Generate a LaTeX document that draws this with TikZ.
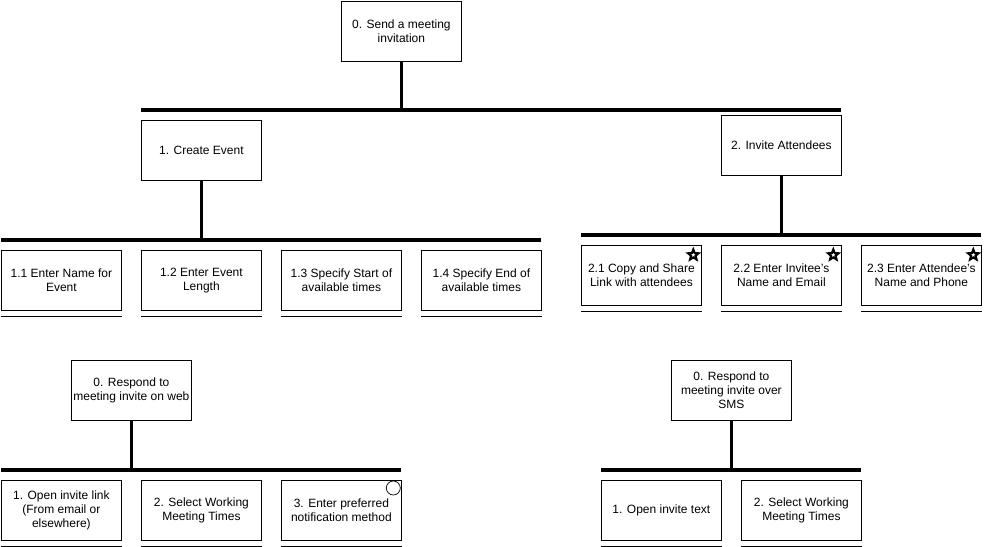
\documentclass[tikz,border=0pt]{standalone}
\usepackage{fontspec}
\setmainfont{Liberation Sans}
\usetikzlibrary{shapes.geometric}
\begin{document}
\begin{tikzpicture}[x=1pt,y=-1pt,
  box/.style={draw=black, line width=0.8pt, fill=white, minimum width=120pt,
    minimum height=60pt, inner sep=0pt, align=center, anchor=north west,
    font=\fontsize{12}{14}\selectfont},
  bar/.style={line width=3.6pt},
  link/.style={line width=3.4pt},
  under/.style={line width=1.3pt},
  mark star/.style={star, star points=5, star point ratio=2.3, draw=black,
    fill=white, line width=2.1pt, minimum size=11pt, inner sep=0pt},
  mark ring/.style={circle, draw=black, fill=white, line width=0.7pt,
    minimum size=14pt, inner sep=0pt}
]
\useasboundingbox (0,0) rectangle (984,546);

% ---------- Send a meeting invitation ----------
\node[box] (n0) at (341,0.5) {0. Send a meeting\\invitation};
\coordinate (b0L) at (141,110);
\coordinate (b0R) at (841,110);
\draw[bar] (b0L) -- (b0R);
\draw[link] (n0.south) -- (n0.south |- b0L);

\node[box] (n1) at (141,120) {1. Create Event};
\node[box] (n2) at (721,115) {2. Invite Attendees};

% Create Event branch
\coordinate (b1L) at (1,240);
\coordinate (b1R) at (541,240);
\draw[bar] (b1L) -- (b1R);
\draw[link] (n1.south) -- (n1.south |- b1L);

\node[box] (n11) at (1,250)   {1.1 Enter Name for\\Event};
\node[box] (n12) at (141,250) {1.2 Enter Event\\Length};
\node[box] (n13) at (281,250) {1.3 Specify Start of\\available times};
\node[box] (n14) at (421,250) {1.4 Specify End of\\available times};

% Invite Attendees branch
\coordinate (b2L) at (581,235);
\coordinate (b2R) at (981,235);
\draw[bar] (b2L) -- (b2R);
\draw[link] (n2.south) -- (n2.south |- b2L);

\node[box] (n21) at (581,245) {2.1 Copy and Share\\Link with attendees};
\node[box] (n22) at (721,245) {2.2 Enter Invitee's\\Name and Email};
\node[box] (n23) at (861,245) {2.3 Enter Attendee's\\Name and Phone};

\foreach \n in {n21,n22,n23}
  \node[mark star] (s\n) at ([xshift=-8.5pt,yshift=-10pt]\n.north east) {};

% ---------- Respond on web ----------
\node[box] (w0) at (71,360) {0. Respond to\\meeting invite on web};
\coordinate (bwL) at (1,470);
\coordinate (bwR) at (401,470);
\draw[bar] (bwL) -- (bwR);
\draw[link] (w0.south) -- (w0.south |- bwL);

\node[box] (w1) at (1,480)   {1. Open invite link\\(From email or\\elsewhere)};
\node[box] (w2) at (141,480) {2. Select Working\\Meeting Times};
\node[box] (w3) at (281,480) {3. Enter preferred\\notification method};
\node[mark ring] (rw3) at ([xshift=-8.5pt,yshift=-8pt]w3.north east) {};

% ---------- Respond over SMS ----------
\node[box] (m0) at (671,360) {0. Respond to\\meeting invite over\\SMS};
\coordinate (bmL) at (601,470);
\coordinate (bmR) at (861,470);
\draw[bar] (bmL) -- (bmR);
\draw[link] (m0.south) -- (m0.south |- bmL);

\node[box] (m1) at (601,480) {1. Open invite text};
\node[box] (m2) at (741,480) {2. Select Working\\Meeting Times};

% underlines beneath the leaf boxes
\foreach \n in {n11,n12,n13,n14,n21,n22,n23,w1,w2,w3,m1,m2}
  \draw[under] ([yshift=-6pt]\n.south west) -- ([yshift=-6pt]\n.south east);

\end{tikzpicture}
\end{document}
